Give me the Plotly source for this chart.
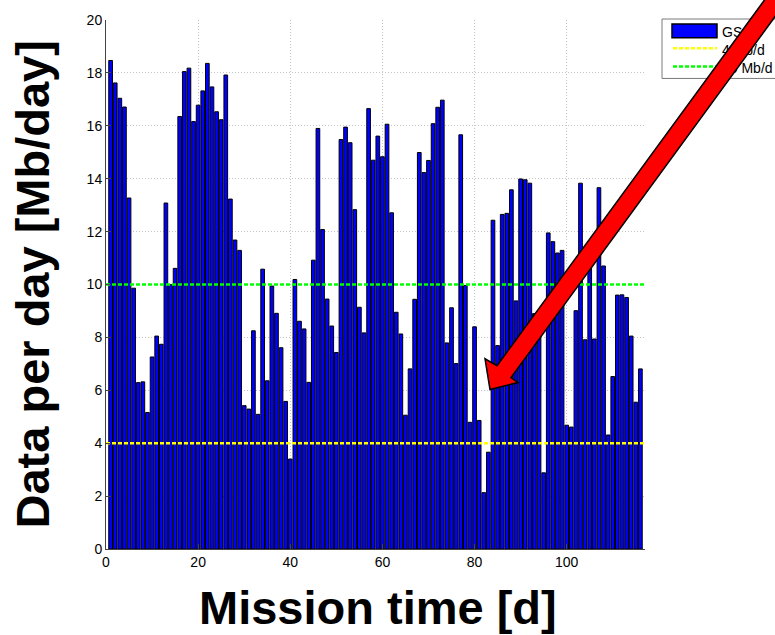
import plotly.graph_objects as go

# Daily downlinked data volume over the mission
day = list(range(1, 117))
data_per_day = [
    18.47, 17.62, 17.04, 16.71, 13.27, 9.86, 6.29, 6.32, 5.16, 7.26,
    8.05, 7.74, 13.08, 9.99, 10.61, 16.35, 18.05, 18.18, 16.16, 16.78,
    17.32, 18.36, 17.47, 16.53, 16.23, 17.92, 13.23, 11.68, 11.29, 5.42,
    5.29, 8.25, 5.09, 10.58, 6.36, 9.94, 8.91, 7.61, 5.58, 3.40,
    10.19, 8.61, 8.32, 6.30, 10.92, 15.90, 12.08, 9.45, 8.43, 7.43,
    15.48, 15.95, 15.36, 12.83, 9.14, 8.17, 16.65, 14.70, 15.61, 14.83,
    16.06, 12.71, 8.95, 8.13, 5.06, 6.81, 9.44, 14.99, 14.23, 14.69,
    16.08, 16.70, 16.97, 7.79, 9.12, 7.01, 15.66, 9.96, 4.79, 8.40,
    4.86, 2.13, 3.66, 12.43, 7.69, 12.65, 12.69, 13.58, 9.38, 13.99,
    13.96, 13.83, 8.90, 8.40, 2.88, 11.95, 11.62, 11.19, 11.29, 4.68,
    4.61, 9.01, 13.83, 7.91, 11.00, 7.94, 13.66, 10.70, 4.31, 6.52,
    9.60, 9.61, 9.51, 8.05, 5.55, 6.81,
]
bar_name = "GS"

# Reference data rates
threshold_levels = [4, 10]
threshold_names = ["4 Mb/d", "10 Mb/d"]
threshold_colors = ["#ffff00", "#00ff00"]

x_range = [0, 117]
y_range = [0, 20]
x_ticks = [0, 20, 40, 60, 80, 100]
y_ticks = list(range(0, 21, 2))

x_title = "Mission time [d]"
y_title = "Data per day [Mb/day]"

W, H = 775, 635
ML, MR, MT, MB = 106, 130, 15, 86
FONT = "Liberation Sans, Arial, Helvetica, sans-serif"


def px(x):
    """Pixel column -> paper fraction."""
    return (x - ML) / (W - ML - MR)


def py(y):
    """Pixel row -> paper fraction."""
    return (H - MB - y) / (H - MT - MB)


fig = go.Figure()

fig.add_trace(go.Bar(
    x=day, y=data_per_day, name=bar_name,
    marker=dict(color="#0000ff", line=dict(color="black", width=1)),
))

for lvl, name, col in zip(threshold_levels, threshold_names, threshold_colors):
    fig.add_trace(go.Scatter(
        x=x_range, y=[lvl, lvl], mode="lines", name=name,
        line=dict(color=col, width=2.5, dash="4px,2px"),
    ))

axis_common = dict(
    ticks="inside", ticklen=5, tickwidth=1, tickcolor="#444",
    showline=True, linecolor="#444", linewidth=1, mirror=False,
    showgrid=True, gridcolor="#c4c4c4", gridwidth=1, griddash="1px,2px",
    zeroline=False, tickfont=dict(family=FONT, size=14, color="black"),
)

fig.update_layout(
    width=W, height=H,
    margin=dict(l=ML, r=MR, t=MT, b=MB, pad=0),
    paper_bgcolor="white", plot_bgcolor="white",
    showlegend=False, bargap=0.2,
    xaxis=dict(range=x_range, tickvals=x_ticks, **axis_common),
    yaxis=dict(range=y_range, tickvals=y_ticks, **axis_common),
)

# Axis titles
fig.add_annotation(
    text=x_title, xref="paper", yref="paper", x=px(378), y=py(608),
    xanchor="center", yanchor="middle", showarrow=False,
    font=dict(family=FONT, size=47, color="black", weight="bold"),
)
fig.add_annotation(
    text=y_title, xref="paper", yref="paper", x=px(32), y=py(282),
    xanchor="center", yanchor="middle", showarrow=False, textangle=-90,
    font=dict(family=FONT, size=47, color="black", weight="bold"),
)

# Legend box drawn with shapes so the pointer arrow can sit over it
legend_font = dict(family=FONT, size=14, color="black")
fig.add_shape(type="rect", xref="paper", yref="paper",
              x0=px(662), x1=px(800), y0=py(74), y1=py(14),
              line=dict(color="#7a7a7a", width=1), fillcolor="white", layer="above")
fig.add_shape(type="rect", xref="paper", yref="paper",
              x0=px(672), x1=px(717), y0=py(33), y1=py(19),
              line=dict(color="black", width=1.5), fillcolor="#0000ff", layer="above")

legend_rows = [bar_name] + threshold_names
for i, (name, col) in enumerate(zip(threshold_names, threshold_colors)):
    yy = 43.5 + 18.5 * (i + 1) - 18.5
    fig.add_shape(type="line", xref="paper", yref="paper",
                  x0=px(673), x1=px(717), y0=py(yy), y1=py(yy),
                  line=dict(color=col, width=2.5, dash="4px,2px"), layer="above")
for i, name in enumerate(legend_rows):
    yy = 26 + 18 * i
    fig.add_shape(type="line", xref="paper", yref="paper",
                  x0=px(700), x1=px(722), y0=py(yy), y1=py(yy),
                  line=dict(color="rgba(0,0,0,0)", width=1), layer="above",
                  label=dict(text=name, textposition="end", xanchor="left",
                             yanchor="middle", padding=0, font=legend_font))

# Red pointer arrow
arrow_px = [(490, 388), (485, 357), (497, 364), (802, -57),
            (816, -45), (511, 376), (518, 381)]
path = "M " + " L ".join(f"{px(a):.5f},{py(b):.5f}" for a, b in arrow_px) + " Z"
fig.add_shape(type="path", xref="paper", yref="paper", path=path,
              fillcolor="#ff0000", line=dict(color="black", width=1.5), layer="above")

fig.write_html("out.html")
